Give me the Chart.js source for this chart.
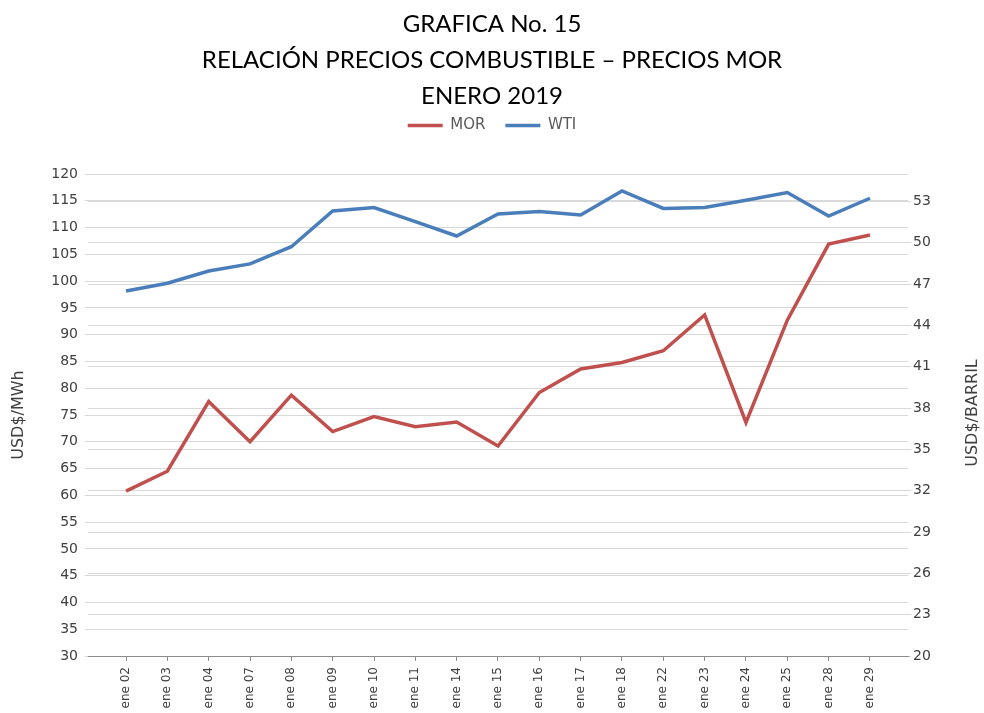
<!DOCTYPE html>
<html>
<head>
<meta charset="utf-8">
<script src="https://cdn.jsdelivr.net/npm/chart.js@4/dist/chart.umd.min.js"></script>
<style>
html,body{margin:0;padding:0;background:#fff;}
#wrap{width:984px;height:713px;position:relative;}
</style>
</head>
<body>
<div id="wrap"><canvas id="c" width="984" height="713"></canvas></div>
<script>
const titleLines = ['GRAFICA No. 15', 'RELACIÓN PRECIOS COMBUSTIBLE – PRECIOS MOR', 'ENERO 2019'];
const categories = ['ene 02','ene 03','ene 04','ene 07','ene 08','ene 09','ene 10','ene 11','ene 14','ene 15','ene 16','ene 17','ene 18','ene 22','ene 23','ene 24','ene 25','ene 28','ene 29'];
const morValues = [60.8, 64.5, 77.5, 70.0, 78.7, 71.9, 74.7, 72.8, 73.7, 69.2, 79.2, 83.6, 84.8, 87.0, 93.7, 73.6, 92.7, 106.9, 108.6];
const wtiValues = [46.5, 47.07, 47.96, 48.47, 49.72, 52.32, 52.56, 51.54, 50.5, 52.1, 52.27, 52.03, 53.77, 52.5, 52.57, 53.1, 53.65, 51.95, 53.24];
const leftTicks = [30,35,40,45,50,55,60,65,70,75,80,85,90,95,100,105,110,115,120];
const rightTicks = [20,23,26,29,32,35,38,41,44,47,50,53];
const leftTitle = 'USD$/MWh';
const rightTitle = 'USD$/BARRIL';

const axisFont = '"DejaVu Sans", Verdana, sans-serif';
const toPts = arr => arr.map((v, i) => ({x: i, y: v}));

const rightTitlePlugin = {
  id: 'rightTitle',
  afterDraw(chart) {
    const ctx = chart.ctx, a = chart.chartArea;
    ctx.save();
    ctx.font = '16px ' + axisFont;
    ctx.fillStyle = '#404040';
    ctx.textAlign = 'center';
    ctx.textBaseline = 'middle';
    ctx.translate(973, 413);
    ctx.rotate(-Math.PI / 2);
    ctx.fillText(rightTitle, 0, 0);
    ctx.restore();
  }
};

new Chart(document.getElementById('c'), {
  type: 'line',
  data: {
    datasets: [
      {label: 'MOR', data: toPts(morValues), yAxisID: 'y', borderColor: '#c0504d', backgroundColor: '#c0504d', borderWidth: 3.5, pointRadius: 0, tension: 0},
      {label: 'WTI', data: toPts(wtiValues), yAxisID: 'y1', borderColor: '#4a7ebb', backgroundColor: '#4a7ebb', borderWidth: 3.5, pointRadius: 0, tension: 0}
    ]
  },
  options: {
    responsive: false,
    animation: false,
    layout: {padding: {left: 0, right: 0, top: 0, bottom: 0}},
    plugins: {
      title: {
        display: true,
        text: titleLines,
        color: '#000',
        font: {family: 'Lato, "Open Sans", sans-serif', size: 24, weight: 'normal', lineHeight: 36/24},
        padding: {top: 6, bottom: -16}
      },
      subtitle: {
        display: true,
        text: '',
        weight: 500,
        font: {size: 10, lineHeight: 1},
        padding: {top: 0, bottom: 21}
      },
      legend: {
        display: true,
        position: 'top',
        labels: {
          usePointStyle: true,
          pointStyle: 'line',
          pointStyleWidth: 35,
          padding: 20,
          color: '#595959',
          font: {family: axisFont, size: 15}
        }
      },
      tooltip: {enabled: false}
    },
    scales: {
      x: {
        type: 'linear',
        min: -0.92,
        max: 18.92,
        afterBuildTicks: s => { s.ticks = categories.map((_, i) => ({value: i})); },
        afterFit: s => { s.height = 57; },
        border: {display: true, color: '#8c8c8c', width: 1},
        grid: {drawOnChartArea: false, drawTicks: true, tickLength: 5, color: '#8c8c8c'},
        ticks: {
          autoSkip: false,
          minRotation: 90,
          maxRotation: 90,
          padding: 6,
          color: '#404040',
          font: {family: axisFont, size: 12},
          callback: v => categories[v]
        }
      },
      y: {
        position: 'left',
        min: 30,
        max: 120,
        afterBuildTicks: s => { s.ticks = leftTicks.map(v => ({value: v})); },
        afterFit: s => { s.width = 88; },
        border: {display: false},
        grid: {color: '#d9d9d9', lineWidth: 1, tickLength: 3},
        ticks: {padding: 7, color: '#404040', font: {family: axisFont, size: 14}},
        title: {display: true, text: leftTitle, color: '#404040', padding: {top: 9, bottom: 0}, font: {family: axisFont, size: 16}}
      },
      y1: {
        position: 'right',
        min: 20,
        max: 55,
        afterBuildTicks: s => { s.ticks = rightTicks.map(v => ({value: v})); },
        afterFit: s => { s.width = 76; },
        border: {display: false},
        grid: {color: '#d9d9d9', lineWidth: 1, tickLength: 3},
        ticks: {padding: 2, color: '#404040', font: {family: axisFont, size: 14}}
      }
    }
  },
  plugins: [rightTitlePlugin]
});
</script>
</body>
</html>
